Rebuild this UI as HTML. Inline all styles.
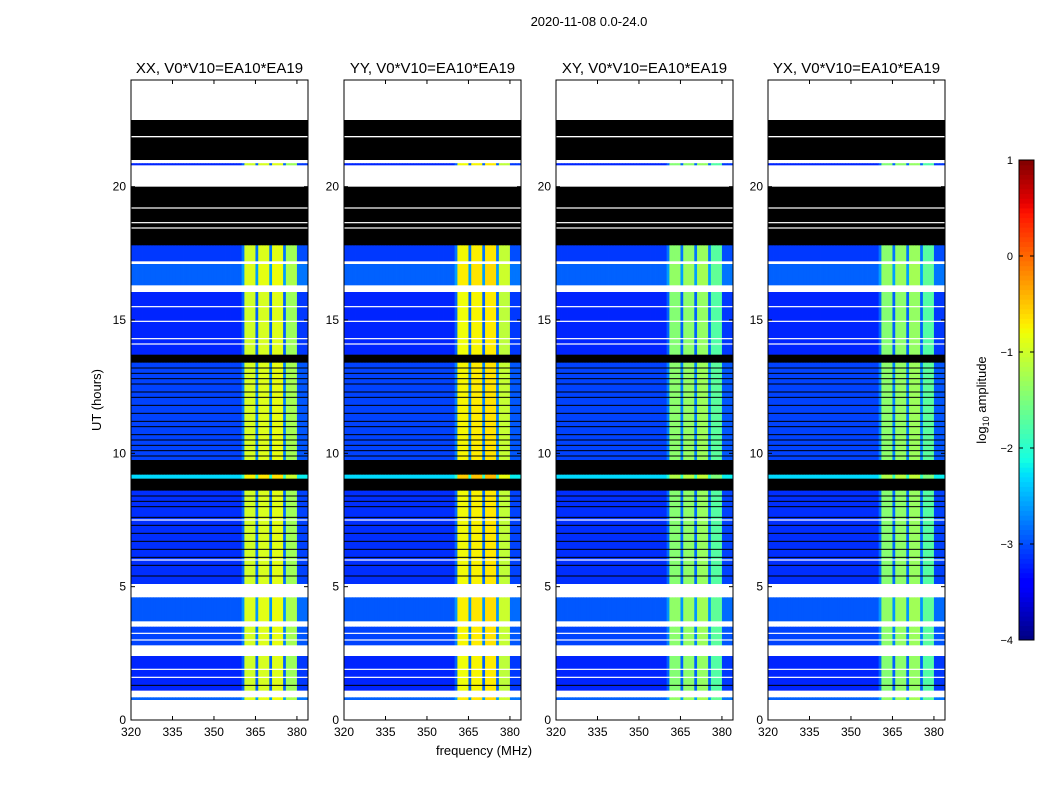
<!DOCTYPE html>
<html><head><meta charset="utf-8"><style>
body{margin:0;background:#fff}
svg text{font-family:"Liberation Sans",sans-serif}
</style></head><body>
<svg id="fig" width="1050" height="800" xmlns="http://www.w3.org/2000/svg">
<text x="589" y="26" font-size="13" text-anchor="middle">2020-11-08 0.0-24.0</text>
<text x="484" y="755" font-size="13" text-anchor="middle">frequency (MHz)</text>
<text x="101" y="400" font-size="13" text-anchor="middle" transform="rotate(-90 101 400)">UT (hours)</text>
<text x="986" y="400" font-size="13" text-anchor="middle" transform="rotate(-90 986 400)">log<tspan font-size="9" dy="3">10</tspan><tspan dy="-3"> amplitude</tspan></text>
<g id="panels"></g>
<g id="cbar"></g>
</svg>
<script>
const panelTitles=["XX, V0*V10=EA10*EA19","YY, V0*V10=EA10*EA19","XY, V0*V10=EA10*EA19","YX, V0*V10=EA10*EA19"];
const xTicks=[320,335,350,365,380];
const yTicks=[0,5,10,15,20];
const cbTicks=[1,0,-1,-2,-3,-4];
const cbLabels=["1","0","\u22121","\u22122","\u22123","\u22124"];
// channel profile (log10 amplitude), channels 320..383 MHz
const channelProfile=[];
for(let f=320;f<384;f++){channelProfile.push(
 f<360?-3.2:f<361?-2.9:f<365?-1.0:f<366?-2.9:f<370?-0.95:f<371?-2.9:f<375?-0.9:f<376?-2.9:f<380?-1.3:-3.1);}
const panelBandOffset=[0,0.2,-0.45,-0.45];
// time segments: start hour, end hour, state (0 blank,1 flagged,2 data), offset
const segStart=[22.5,21.9,21.85,21.0,20.88,20.8,20.0,17.8,17.2,17.1,16.3,16.05,13.7,13.4,9.75,9.2,9.05,8.6,5.1,4.6,3.7,3.5,2.8,2.4,1.1,0.85,0.75,0];
const segEnd  =[24,22.5,21.9,21.85,21.0,20.88,20.8,20.0,17.8,17.2,17.1,16.3,16.05,13.7,13.4,9.75,9.2,9.05,8.6,5.1,4.6,3.7,3.5,2.8,2.4,1.1,0.85,0.75];
const segState=[0,1,0,1,0,2,0,1,2,0,2,0,2,1,2,1,2,1,2,0,2,0,2,0,2,0,2,0];
const segOffset=[0,0,0,0,0,0,0,0,0.1,0,0.3,0,0,0,0.15,0,0.9,0,0.05,0,0.25,0,0.15,0,0,0,0.3,0];
const blackLines=[13.2,13.0,12.8,12.6,12.3,12.1,11.8,11.5,11.2,11.0,10.7,10.5,10.3,10.1,9.9,8.4,8.2,8.0,7.6,7.3,7.0,6.7,6.4,6.1,5.8,5.4,1.3];
const whiteLines=[19.2,18.65,18.45,15.5,14.95,14.3,14.1,7.5,6.0,3.25,3.0,1.9,1.6];

const NS="http://www.w3.org/2000/svg";
function jet(v){v=Math.max(0,Math.min(1,v));
 function p(pts){for(let i=1;i<pts.length;i++){if(v<=pts[i][0]){const a=pts[i-1],b=pts[i];return a[1]+(b[1]-a[1])*(v-a[0])/(b[0]-a[0]);}}return pts[pts.length-1][1];}
 const r=p([[0,0],[0.35,0],[0.66,1],[0.89,1],[1,0.5]]),g=p([[0,0],[0.125,0],[0.375,1],[0.64,1],[0.91,0],[1,0]]),b=p([[0,0.5],[0.11,1],[0.34,1],[0.65,0],[1,0]]);
 return `rgb(${Math.round(r*255)},${Math.round(g*255)},${Math.round(b*255)})`;}
function cval(v){return jet((v+4)/5);}
function mk(tag,attrs,parent){const e=document.createElementNS(NS,tag);for(const k in attrs)e.setAttribute(k,attrs[k]);parent.appendChild(e);return e;}
const lefts=[131,344,556,768],W=177,TOP=80,BOT=720,FMIN=320,FMAX=384;
const root=document.getElementById('panels');
lefts.forEach((L,pi)=>{
 const xs=f=>L+(f-FMIN)/(FMAX-FMIN)*W, ys=h=>BOT-h/24*(BOT-TOP);
 const g=mk('g',{},root);
 
 
 for(let s=0;s<segStart.length;s++){
  const y0=ys(segEnd[s]),y1=ys(segStart[s]);
  if(segState[s]!==2){const r=mk('rect',{x:L,y:y0,width:W,height:y1-y0+0.3,fill:segState[s]?'#000':'#fff'},g);
   continue;}
  for(let c=0;c<channelProfile.length;c++){
   let v=channelProfile[c];
   if(channelProfile[c]>-2)v+=panelBandOffset[pi]+segOffset[s]*0.3;
   else v+=segOffset[s];
   const r=mk('rect',{x:xs(FMIN+c),y:y0,width:xs(FMIN+c+1)-xs(FMIN+c)+0.4,height:y1-y0+0.3,fill:cval(v)},g);
   
  }
 }
 blackLines.forEach(h=>{const r=mk('rect',{x:L,y:ys(h)-0.5,width:W,height:1,fill:'#000'},g);
  });
 whiteLines.forEach(h=>{const r=mk('rect',{x:L,y:ys(h)-0.6,width:W,height:1.2,fill:'#fff'},g);
  });
 const fr=mk('rect',{x:L,y:TOP,width:W,height:BOT-TOP,fill:'none',stroke:'#000','stroke-width':1},g);
 
 const t=mk('text',{x:L+W/2,y:TOP-7,'font-size':15,'text-anchor':'middle'},g);t.textContent=panelTitles[pi];
 
 xTicks.forEach(v=>{const x=xs(v);
  mk('line',{x1:x,x2:x,y1:BOT,y2:BOT-4,stroke:'#000'},g);mk('line',{x1:x,x2:x,y1:TOP,y2:TOP+4,stroke:'#000'},g);
  const tt=mk('text',{x:x,y:BOT+16,'font-size':12,'text-anchor':'middle'},g);tt.textContent=v;
  });
 yTicks.forEach(v=>{const y=ys(v);
  mk('line',{x1:L,x2:L+4,y1:y,y2:y,stroke:'#000'},g);mk('line',{x1:L+W,x2:L+W-4,y1:y,y2:y,stroke:'#000'},g);
  const tt=mk('text',{x:L-5,y:y+4,'font-size':12,'text-anchor':'end'},g);tt.textContent=v;
  });
});
// colorbar
const cb=document.getElementById('cbar'),CX=1019,CW=15,CT=160,CB=640;
const cys=v=>CB-(v+4)/5*(CB-CT);
for(let i=0;i<100;i++){const v0=-4+i*0.05;
 const r=mk('rect',{x:CX,y:cys(v0+0.05),width:CW,height:(CB-CT)/100+0.5,fill:cval(v0+0.025)},cb);
 }
mk('rect',{x:CX,y:CT,width:CW,height:CB-CT,fill:'none',stroke:'#000'},cb);
cbTicks.forEach((v,i)=>{const y=cys(v);
 mk('line',{x1:CX,x2:CX+4,y1:y,y2:y,stroke:'#000'},cb);mk('line',{x1:CX+CW,x2:CX+CW-4,y1:y,y2:y,stroke:'#000'},cb);
 const tt=mk('text',{x:CX-6,y:y+4,'font-size':11,'text-anchor':'end'},cb);tt.textContent=cbLabels[i];
 });
</script>
</body></html>
